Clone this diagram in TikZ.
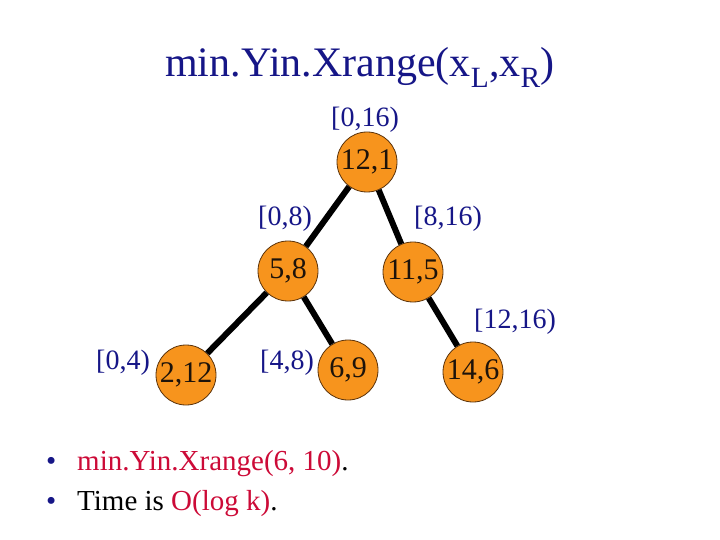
\documentclass[tikz,border=0pt]{standalone}
\usepackage{fontspec}
\setmainfont{Liberation Serif}
\definecolor{navy}{RGB}{22,22,135}
\definecolor{crim}{RGB}{204,10,55}
\definecolor{nodeorange}{RGB}{247,148,29}
\definecolor{nodeline}{RGB}{90,50,10}
\begin{document}
\begin{tikzpicture}[x=1pt,y=-1pt,
  treenode/.style={circle,fill=nodeorange,draw=nodeline,line width=0.8pt,minimum size=60pt,inner sep=0pt,font=\fontsize{30}{32}\selectfont,text=black!85!brown},
  rangelabel/.style={text=navy,font=\fontsize{28}{30}\selectfont,inner sep=0pt},
  treeedge/.style={line width=6pt,black},
  bullettext/.style={anchor=base west,inner sep=0pt,font=\fontsize{29}{32}\selectfont}]
\useasboundingbox (0,0) rectangle (720,540);
\node[anchor=base,text=navy,font=\fontsize{42}{46}\selectfont,inner sep=0pt] (title) at (360,77) {min.Yin.Xrange(x\textsubscript{L},x\textsubscript{R})};
\node[treenode] (n121) at (367,162) {12,1};
\node[treenode] (n58) at (288,271) {5,8};
\node[treenode] (n115) at (413,272) {11,5};
\node[treenode] (n212) at (186,375) {2,12};
\node[treenode] (n69) at (348,370) {6,9};
\node[treenode] (n146) at (473,372) {14,6};
\draw[treeedge] (n121) -- (n58);
\draw[treeedge] (n121) -- (n115);
\draw[treeedge] (n58) -- (n212);
\draw[treeedge] (n58) -- (n69);
\draw[treeedge] (n115) -- (n146);
\node[rangelabel] (l016) at (365,120) {[0,16)};
\node[rangelabel] (l08) at (285,219) {[0,8)};
\node[rangelabel] (l816) at (448,219) {[8,16)};
\node[rangelabel] (l1216) at (515,322) {[12,16)};
\node[rangelabel] (l04) at (123,363) {[0,4)};
\node[rangelabel] (l48) at (287,363) {[4,8)};
\node[bullettext,text=navy] (b1) at (46,470) {•};
\node[bullettext,text=navy] (b2) at (46,510) {•};
\node[bullettext] (t1) at (77,470) {\textcolor{crim}{min.Yin.Xrange(6, 10)}.};
\node[bullettext] (t2) at (77,510) {Time is \textcolor{crim}{O(log k)}.};
\end{tikzpicture}
\end{document}
